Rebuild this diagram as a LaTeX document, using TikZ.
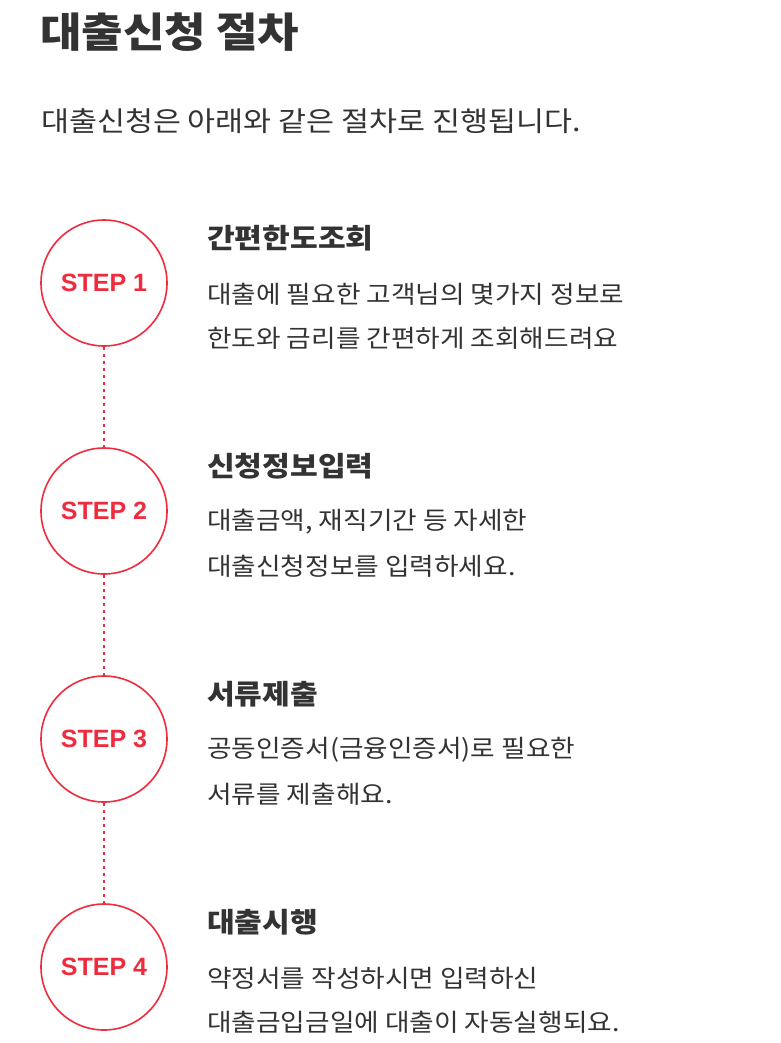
\documentclass[tikz,border=0pt]{standalone}
\usepackage{fontspec}
\setmainfont{Noto Sans CJK KR}
\newfontfamily\stepfont{Liberation Sans}
\definecolor{stepred}{RGB}{238,44,62}
\definecolor{txt}{RGB}{51,51,51}
\begin{document}
\begin{tikzpicture}[x=1pt,y=-1pt,
  stepcircle/.style={circle,draw=stepred,line width=1.6pt,minimum size=126pt,inner sep=0pt,
     font=\stepfont\bfseries\fontsize{25}{25}\selectfont,text=stepred},
  steptitle/.style={anchor=west,inner sep=0pt,text=txt,font=\bfseries\fontsize{27.5}{27.5}\selectfont\addfontfeatures{FakeStretch=1.095}},
  stepbody/.style={anchor=west,inner sep=0pt,text=txt,font=\fontsize{24.5}{24.5}\selectfont\addfontfeatures{FakeStretch=1.09}},
  link/.style={draw=stepred,line width=1.6pt,dash pattern=on 3pt off 4pt}]
\useasboundingbox (0,0) rectangle (780,1043);
\fill[white] (0,0) rectangle (780,1043);
\node[anchor=west,inner sep=0pt,text=txt,font=\bfseries\fontsize{41}{41}\selectfont\addfontfeatures{FakeStretch=1.1}] (title) at (40,32) {대출신청 절차};
\node[anchor=west,inner sep=0pt,text=txt,font=\fontsize{27.5}{27.5}\selectfont\addfontfeatures{FakeStretch=1.106}] (sub) at (41,121) {대출신청은 아래와 같은 절차로 진행됩니다.};

\node[stepcircle] (s1) at (104,283) {STEP 1};
\node[stepcircle] (s2) at (104,511) {STEP 2};
\node[stepcircle] (s3) at (104,739) {STEP 3};
\node[stepcircle] (s4) at (104,967) {STEP 4};
\draw[link] (s1.south) -- (s2.north);
\draw[link] (s2.south) -- (s3.north);
\draw[link] (s3.south) -- (s4.north);

\node[steptitle] (t1) at (207,238) {간편한도조회};
\node[stepbody] (b1a) at (207,294) {대출에 필요한 고객님의 몇가지 정보로};
\node[stepbody] (b1b) at (207,338) {한도와 금리를 간편하게 조회해드려요};

\node[steptitle] (t2) at (207,466) {신청정보입력};
\node[stepbody] (b2a) at (207,522) {대출금액, 재직기간 등 자세한};
\node[stepbody] (b2b) at (207,566) {대출신청정보를 입력하세요.};

\node[steptitle] (t3) at (207,694) {서류제출};
\node[stepbody] (b3a) at (207,750) {공동인증서(금융인증서)로 필요한};
\node[stepbody] (b3b) at (207,794) {서류를 제출해요.};

\node[steptitle] (t4) at (207,922) {대출시행};
\node[stepbody] (b4a) at (207,978) {약정서를 작성하시면 입력하신};
\node[stepbody] (b4b) at (207,1022) {대출금입금일에 대출이 자동실행되요.};
\end{tikzpicture}
\end{document}
